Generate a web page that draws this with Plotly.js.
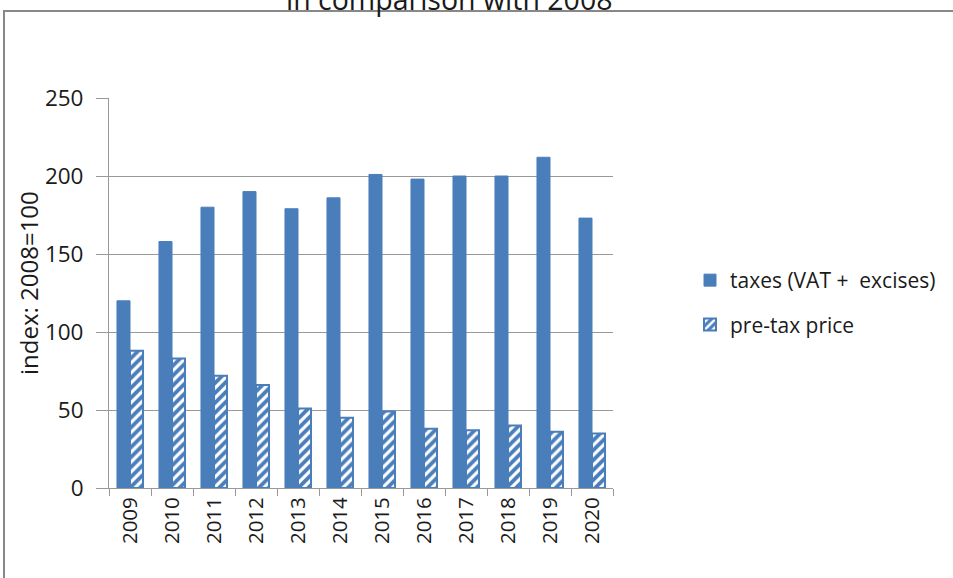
<!DOCTYPE html>
<html>
<head>
<meta charset="utf-8">
<script src="https://cdn.plot.ly/plotly-3.0.1.min.js"></script>
<style>html,body{margin:0;padding:0;background:#fff;}#chart{width:953px;height:578px;}</style>
</head>
<body>
<div id="chart"></div>
<script>
const years = ['2009','2010','2011','2012','2013','2014','2015','2016','2017','2018','2019','2020'];
const taxes = [120, 158, 180, 190, 179, 186, 201, 198, 200, 200, 212, 173];
const preTax = [88, 83, 72, 66, 51, 45, 49, 38, 37, 40, 36, 35];
const seriesNames = ['taxes (VAT +  excises)', 'pre-tax price'];
const titleText = 'in comparison with 2008';
const yTitle = 'index: 2008=100';
const yTicks = [0, 50, 100, 150, 200, 250];

const blue = '#4a7ebb';
const font = 'Open Sans, sans-serif';

const traces = [
  {
    type: 'bar', x: years, y: taxes, name: seriesNames[0], legendgroup: 'a',
    marker: {color: blue, line: {color: blue, width: 1}}
  },
  {
    type: 'bar', x: years, y: preTax, name: seriesNames[1], legendgroup: 'b',
    marker: {color: blue, line: {color: blue, width: 2},
      pattern: {shape: '/', bgcolor: blue, fgcolor: '#ffffff', size: 7, solidity: 0.45}}
  }
];

const L = 109, R = 613, T = 98, B = 488;
const W = R - L, H = B - T;
const px = v => (v - L) / W;
const py = v => (B - v) / H;

const layout = {
  width: 953, height: 578,
  margin: {l: L, r: 953 - R, t: T, b: 578 - B, pad: 0},
  paper_bgcolor: '#ffffff', plot_bgcolor: '#ffffff',
  font: {family: font, color: '#1a1a1a', size: 18},
  barmode: 'group', bargap: 0.38, bargroupgap: 0,
  showlegend: true,
  legend: {x: px(690), y: py(260), xanchor: 'left', yanchor: 'top',
    font: {family: font, size: 21, color: '#1a1a1a'}, traceorder: 'grouped', tracegroupgap: 14,
    bgcolor: 'rgba(0,0,0,0)'},
  xaxis: {type: 'category', tickson: 'boundaries', ticks: 'outside', ticklen: 7, tickcolor: '#999',
    showline: true, linecolor: '#999', linewidth: 1, showgrid: false, tickangle: -90,
    tickfont: {family: font, size: 20.5, color: '#1a1a1a'}, fixedrange: true},
  yaxis: {range: [0, 250], tickvals: yTicks, ticks: 'outside', ticklen: 12, tickcolor: '#999',
    ticklabelstandoff: 8,
    showline: true, linecolor: '#999', linewidth: 1, showgrid: true, gridcolor: '#999', gridwidth: 1,
    zeroline: false, tickfont: {family: font, size: 22.5, color: '#1a1a1a'}},
  annotations: [
    {text: titleText, xref: 'paper', yref: 'paper', x: px(449), y: py(-1), xanchor: 'center', yanchor: 'middle',
      showarrow: false, font: {family: font, size: 28.5, color: '#1a1a1a'}},
    {text: yTitle, xref: 'paper', yref: 'paper', x: px(28), y: py(283), xanchor: 'center', yanchor: 'middle',
      textangle: -90, showarrow: false, font: {family: font, size: 24, color: '#1a1a1a'}}
  ],
  shapes: [
    {type: 'rect', xref: 'paper', yref: 'paper', x0: px(4), x1: px(970), y0: py(600), y1: py(11),
      line: {color: '#888', width: 2}, fillcolor: 'rgba(0,0,0,0)', layer: 'below'}
  ]
};

Plotly.newPlot('chart', traces, layout, {displayModeBar: false, staticPlot: true});
</script>
</body>
</html>
